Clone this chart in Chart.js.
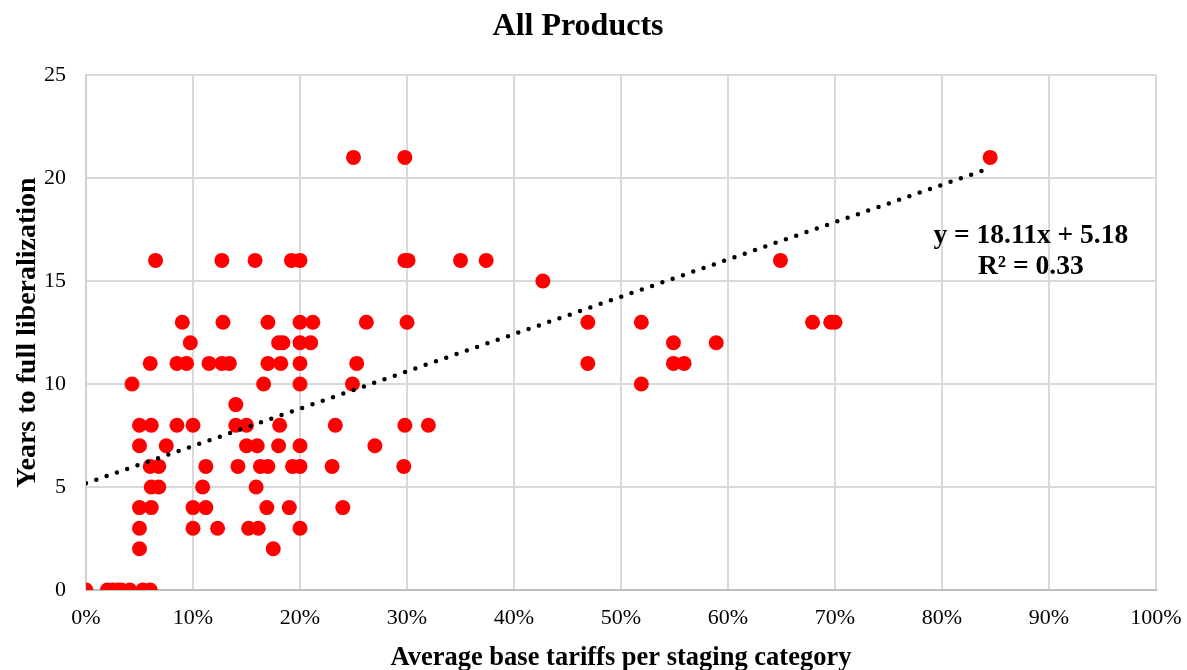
<!DOCTYPE html>
<html>
<head>
<meta charset="utf-8">
<title>All Products</title>
<script src="https://cdn.jsdelivr.net/npm/chart.js@4/dist/chart.umd.min.js"></script>
<style>
  html, body { margin: 0; padding: 0; background: #fff; }
  #wrap { width: 1187px; height: 670px; position: relative; }
</style>
</head>
<body>
<div id="wrap"><canvas id="chartTariffs"></canvas></div>
<script>
// Average base tariff per staging category (%) and years to full liberalization
const tariffPct = [
  25.0, 29.8, 84.5,
  6.5, 12.7, 15.8, 19.2, 20.0, 29.8, 30.1, 35.0, 37.4, 64.9,
  42.7,
  9.0, 12.8, 17.0, 20.0, 21.2, 26.2, 30.0, 46.9, 51.9, 67.9, 69.6, 70.0,
  9.75, 18.0, 18.4, 20.0, 21.0, 54.9, 58.9,
  6.0, 8.5, 9.4, 11.5, 12.7, 13.4, 17.0, 18.2, 20.0, 25.3, 46.9, 54.9, 55.9,
  4.3, 16.6, 20.0, 24.9, 51.9,
  14.0,
  5.0, 6.1, 8.5, 10.0, 14.0, 15.0, 18.1, 23.3, 29.8, 32.0,
  5.0, 7.5, 15.0, 16.0, 18.0, 20.0, 27.0,
  6.0, 6.8, 11.2, 14.2, 16.3, 17.0, 19.3, 20.0, 23.0, 29.7,
  6.1, 6.8, 10.9, 15.9,
  5.0, 6.1, 10.0, 11.2, 16.9, 19.0, 24.0,
  5.0, 10.0, 12.3, 15.2, 16.1, 20.0,
  5.0, 17.5,
  0.0, 2.0, 2.5, 3.0, 3.3, 4.1, 5.3, 6.0,
];
const yearsToLib = [
  21, 21, 21,
  16, 16, 16, 16, 16, 16, 16, 16, 16, 16,
  15,
  13, 13, 13, 13, 13, 13, 13, 13, 13, 13, 13, 13,
  12, 12, 12, 12, 12, 12, 12,
  11, 11, 11, 11, 11, 11, 11, 11, 11, 11, 11, 11, 11,
  10, 10, 10, 10, 10,
  9,
  8, 8, 8, 8, 8, 8, 8, 8, 8, 8,
  7, 7, 7, 7, 7, 7, 7,
  6, 6, 6, 6, 6, 6, 6, 6, 6, 6,
  5, 5, 5, 5,
  4, 4, 4, 4, 4, 4, 4,
  3, 3, 3, 3, 3, 3,
  2, 2,
  0, 0, 0, 0, 0, 0, 0, 0,
];

// Linear trend as printed on the chart
const trendSlope = 18.11;
const trendIntercept = 5.18;
const trendLabel = ["y = 18.11x + 5.18", "R\u00b2 = 0.33"];

const xTicks = [0, 10, 20, 30, 40, 50, 60, 70, 80, 90, 100];
const yTicks = [0, 5, 10, 15, 20, 25];

const FONT = "'Liberation Serif', 'Times New Roman', serif";

const points = tariffPct.map((x, i) => ({ x, y: yearsToLib[i] }));
const xMax = Math.max(...tariffPct);
const trendPts = [0, xMax].map((x) => ({ x, y: trendSlope * (x / 100) + trendIntercept }));

// texto de la ecuación de tendencia
const trendText = {
  id: "trendText",
  afterDatasetsDraw(chart) {
    const { ctx, scales } = chart;
    const cx = scales.x.getPixelForValue(88.3);
    const cy = scales.y.getPixelForValue(17.2);
    ctx.save();
    ctx.fillStyle = "#000";
    ctx.font = `bold 27.5px ${FONT}`;
    ctx.textAlign = "center";
    ctx.textBaseline = "middle";
    ctx.fillText(trendLabel[0], cx, cy);
    ctx.fillText(trendLabel[1], cx, cy + 31);
    ctx.restore();
  },
};

const ctx = document.getElementById("chartTariffs");
new Chart(ctx, {
  type: "scatter",
  data: {
    datasets: [
      {
        type: "line",
        label: "Trend",
        data: trendPts,
        borderColor: "#000",
        borderWidth: 4.5,
        borderDash: [0, 10.9],
        borderCapStyle: "round",
        pointRadius: 0,
        fill: false,
        order: 0,
      },
      {
        label: "Products",
        data: points,
        backgroundColor: "#ff0000",
        borderWidth: 0,
        pointRadius: 7.5,
        pointHoverRadius: 7.5,
        order: 1,
      },
    ],
  },
  plugins: [trendText],
  options: {
    responsive: true,
    maintainAspectRatio: false,
    animation: false,
    layout: { padding: { left: 0, right: 31, top: 0, bottom: 0 } },
    plugins: {
      legend: { display: false },
      tooltip: { enabled: false },
      title: {
        display: true,
        text: "All Products",
        color: "#000",
        font: { family: FONT, size: 32, weight: "bold", lineHeight: 1.2 },
        padding: { top: 8, bottom: 28.6 },
      },
    },
    scales: {
      x: {
        type: "linear",
        min: 0,
        max: 100,
        afterBuildTicks: (s) => { s.ticks = xTicks.map((v) => ({ value: v })); },
        afterFit: (s) => { s.height = 80; s.paddingLeft = 0; s.paddingRight = 0; },
        grid: { color: "#d9d9d9", lineWidth: 2, drawTicks: false },
        border: { color: "#bfbfbf", width: 2 },
        ticks: {
          color: "#000",
          padding: 15,
          font: { family: FONT, size: 22 },
          callback: (v) => `${v}%`,
        },
        title: {
          display: true,
          text: "Average base tariffs per staging category",
          color: "#000",
          font: { family: FONT, size: 26.5, weight: "bold", lineHeight: 1 },
          padding: { top: 0, bottom: -1 },
        },
      },
      y: {
        min: 0,
        max: 25,
        afterBuildTicks: (s) => { s.ticks = yTicks.map((v) => ({ value: v })); },
        afterFit: (s) => { s.width = 86; },
        grid: { color: "#d9d9d9", lineWidth: 2, drawTicks: false },
        border: { color: "#d0d0d0", width: 2 },
        ticks: {
          color: "#000",
          padding: 20,
          font: { family: FONT, size: 22 },
        },
        title: {
          display: true,
          text: "Years to full liberalization",
          color: "#000",
          font: { family: FONT, size: 28, weight: "bold", lineHeight: 1 },
          padding: { top: 14, bottom: 0 },
        },
      },
    },
  },
});
</script>
</body>
</html>
